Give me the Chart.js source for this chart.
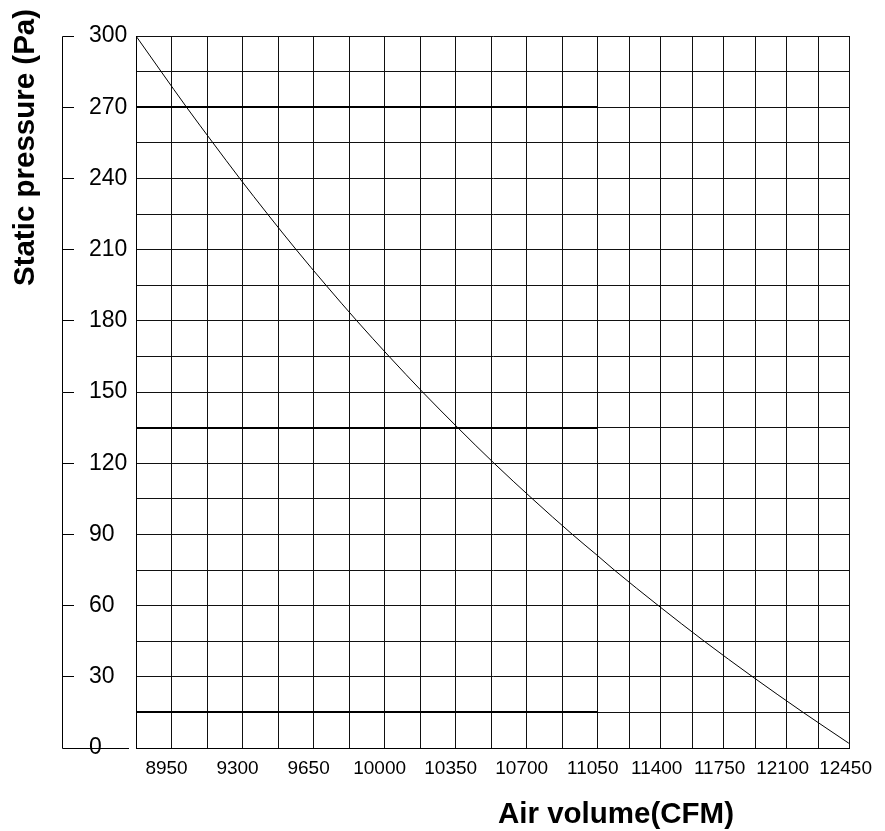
<!DOCTYPE html>
<html>
<head>
<meta charset="utf-8">
<script src="https://cdn.jsdelivr.net/npm/chart.js@4"></script>
<style>
html,body{margin:0;padding:0;background:#fff;}
#wrap{width:885px;height:831px;}
</style>
</head>
<body>
<div id="wrap"><canvas id="c" width="885" height="831"></canvas></div>
<script>
// ---- data ----
const airVolume = [8775, 8899, 9024, 9154, 9286, 9423, 9564, 9711, 9863, 10022, 10187, 10360, 10539, 10728, 10925, 11050, 11142, 11387, 11642, 11911, 12192, 12446];
const staticPressure = [300, 285, 270, 255, 240, 225, 210, 195, 180, 165, 150, 135, 120, 105, 90, 81, 75, 60, 45, 30, 15, 2];
const xTickLabels = [8950, 9300, 9650, 10000, 10350, 10700, 11050, 11400, 11750, 12100, 12450];
const yTickLabels = [0, 30, 60, 90, 120, 150, 180, 210, 240, 270, 300];
const xMin = 8775, xBreak = 11050, xMax = 12450, xStep = 175;
const yMin = 0, yMax = 300, yStep = 15;
const boldRows = [15, 135, 270];
const xTitle = 'Air volume(CFM)';
const yTitle = 'Static pressure (Pa)';

// split the curve at the break (the grid is narrower to the right of it)
const segA = [], segB = [];
airVolume.forEach((v, i) => {
  const p = {x: v, y: staticPressure[i]};
  if (v <= xBreak) segA.push(p);
  if (v >= xBreak) segB.push(p);
});

const FONT = "'Liberation Sans', Arial, Helvetica, sans-serif";
Chart.defaults.font.family = FONT;
Chart.defaults.color = '#000';

function align(px, w) { const h = w / 2; return Math.round(px - h) + h; }

const decor = {
  id: 'decor',
  beforeDatasetsDraw(chart) {
    const {ctx, scales} = chart;
    const y = scales.y, xa = scales.xa;
    ctx.save();
    ctx.strokeStyle = '#000';
    ctx.lineWidth = 2;
    boldRows.forEach(v => {
      const py = align(y.getPixelForValue(v), 2);
      ctx.beginPath(); ctx.moveTo(xa.left, py); ctx.lineTo(xa.right, py); ctx.stroke();
    });
    ctx.restore();
  },
  afterDraw(chart) {
    const {ctx, scales} = chart;
    const y = scales.y;
    const ax = 62.5;
    const top = align(y.getPixelForValue(yMax), 1);
    const bot = align(y.getPixelForValue(yMin), 1);
    ctx.save();
    ctx.strokeStyle = '#000';
    ctx.lineWidth = 1;
    ctx.beginPath();
    ctx.moveTo(ax, top); ctx.lineTo(ax, bot); ctx.lineTo(129, bot);
    yTickLabels.forEach(v => {
      if (v === yMin) return;
      const py = align(y.getPixelForValue(v), 1);
      ctx.moveTo(ax, py); ctx.lineTo(74, py);
    });
    ctx.stroke();
    // axis titles
    ctx.fillStyle = '#000';
    ctx.font = "bold 29.5px " + FONT;
    ctx.textBaseline = 'alphabetic';
    ctx.textAlign = 'center';
    ctx.fillText(xTitle, 616, 823);
    ctx.translate(33.5, 147.5);
    ctx.rotate(-Math.PI / 2);
    ctx.fillText(yTitle, 0, 0);
    ctx.restore();
  }
};

const gridCol = '#111';
const xCommon = (min, max, weight, skipFirst, offset) => ({
  type: 'linear',
  position: 'bottom',
  stack: 'xs',
  stackWeight: weight,
  min: min, max: max,
  grid: {color: gridCol, lineWidth: 1, drawTicks: false},
  border: {color: '#000', width: 1},
  ticks: {
    stepSize: xStep,
    autoSkip: false,
    maxRotation: 0,
    padding: 9,
    labelOffset: offset,
    font: {size: 19},
    color: '#000',
    callback: (v) => (xTickLabels.includes(v) && !(skipFirst && v === min)) ? String(v) : ''
  },
  afterFit: (s) => { s.height = 32; }
});

new Chart(document.getElementById('c'), {
  type: 'line',
  data: {
    datasets: [
      {data: segA, xAxisID: 'xa', yAxisID: 'y', borderColor: '#000', borderWidth: 1, pointRadius: 0, cubicInterpolationMode: 'monotone', fill: false},
      {data: segB, xAxisID: 'xb', yAxisID: 'y', borderColor: '#000', borderWidth: 1, pointRadius: 0, cubicInterpolationMode: 'monotone', fill: false}
    ]
  },
  options: {
    responsive: false,
    animation: false,
    layout: {padding: {left: 89, top: 36, right: 35, bottom: 51}},
    plugins: {legend: {display: false}, tooltip: {enabled: false}},
    scales: {
      xa: xCommon(xMin, xBreak, 462, false, -5),
      xb: xCommon(xBreak, xMax, 252, true, -4),
      y: {
        type: 'linear',
        position: 'left',
        min: yMin, max: yMax,
        grid: {color: gridCol, lineWidth: 1, drawTicks: false},
        border: {color: '#000', width: 1},
        ticks: {
          stepSize: yStep,
          autoSkip: false,
          crossAlign: 'far',
          padding: 8,
          font: {size: 23},
          color: '#000',
          callback: (v) => yTickLabels.includes(v) ? String(v) : ''
        },
        afterFit: (s) => { s.width = 47; }
      }
    }
  },
  plugins: [decor]
});
</script>
</body>
</html>
